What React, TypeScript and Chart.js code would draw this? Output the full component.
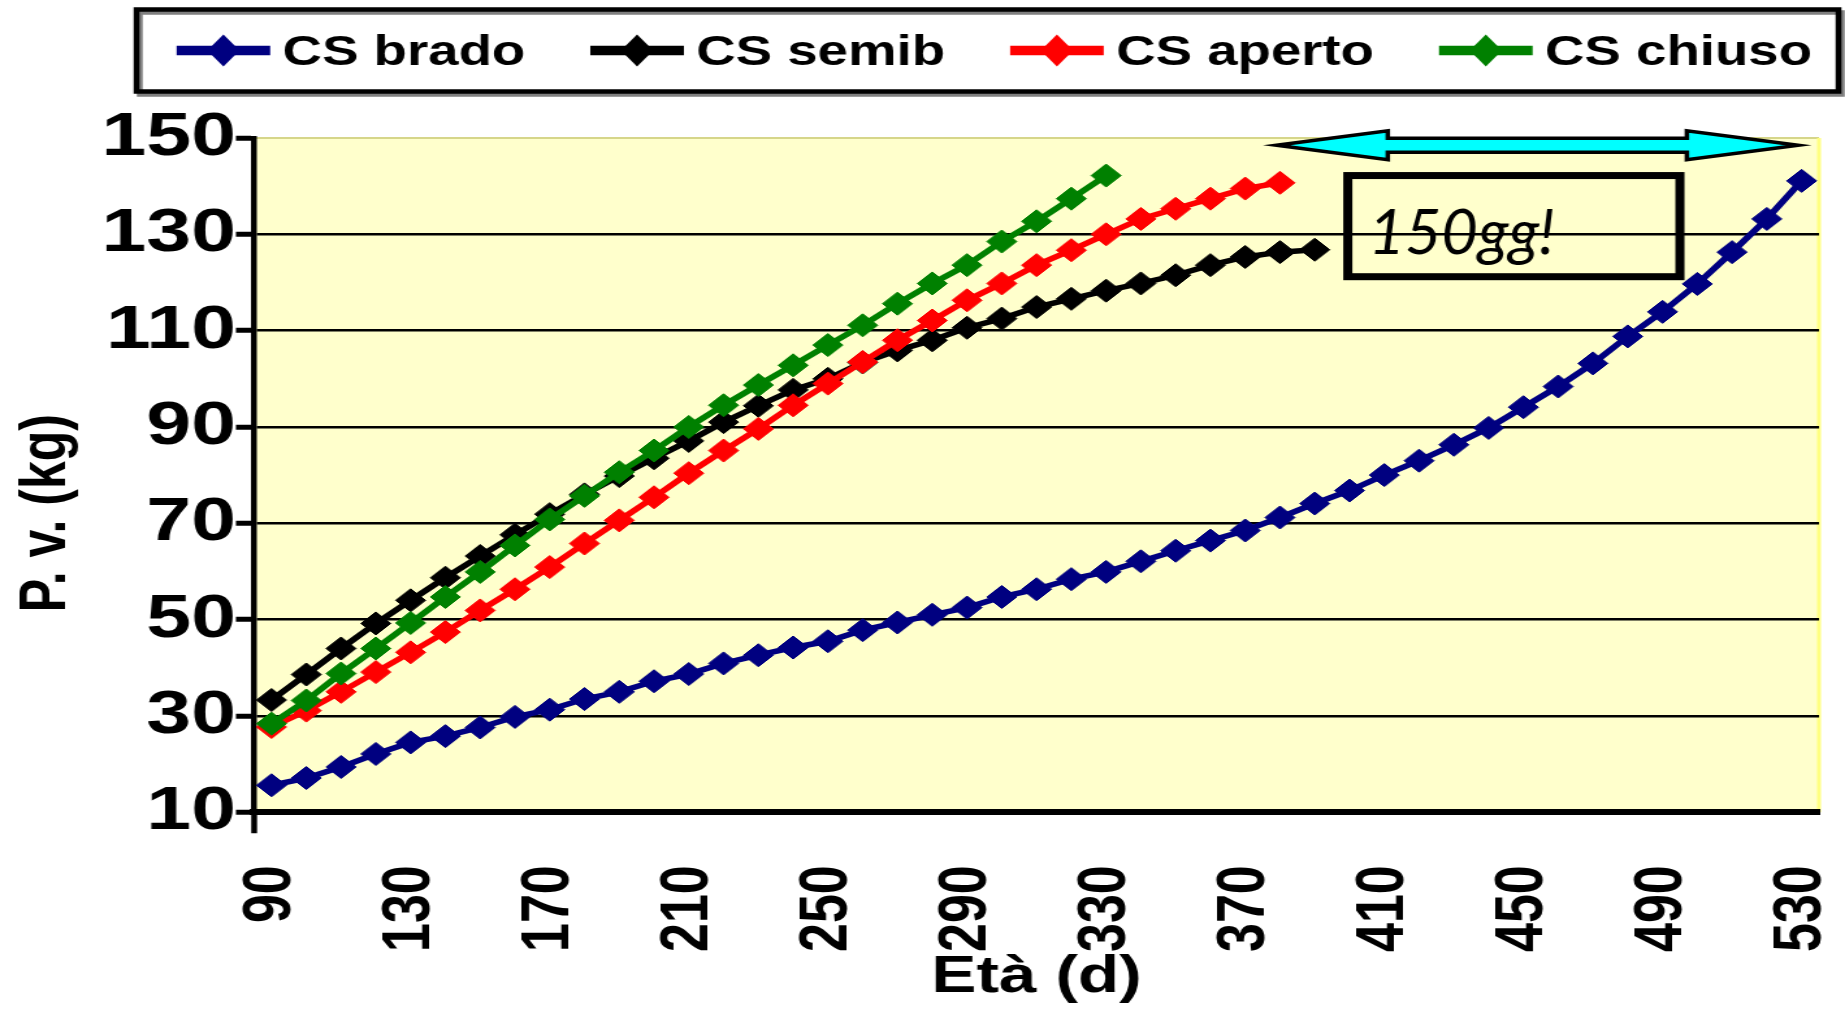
import React, { useEffect, useRef } from 'react';
import { Chart, registerables } from 'chart.js';

Chart.register(...registerables);

// ---------------- data ----------------
const DAYS = [
  90, 100, 110, 120, 130, 140, 150, 160, 170, 180, 190, 200, 210, 220, 230,
  240, 250, 260, 270, 280, 290, 300, 310, 320, 330, 340, 350, 360, 370, 380,
  390, 400, 410, 420, 430, 440, 450, 460, 470, 480, 490, 500, 510, 520, 530,
];

const CS_BRADO = [
  15.6, 17.1, 19.4, 22.1, 24.5, 25.8, 27.6, 29.8, 31.3, 33.5, 35.0, 37.2, 38.7, 40.9, 42.6,
  44.2, 45.5, 47.8, 49.4, 51.0, 52.5, 54.7, 56.3, 58.4, 59.9, 62.1, 64.3, 66.4, 68.5, 71.2,
  74.1, 76.8, 80.0, 83.0, 86.3, 89.8, 94.1, 98.4, 103.2, 108.8, 113.9, 119.7, 126.3, 133.2, 141.1,
];

const CS_SEMIB = [
  33.3, 38.6, 44.0, 49.2, 54.0, 58.7, 63.2, 67.6, 71.9, 76.0, 79.8, 83.5, 87.1, 91.0, 94.4,
  97.7, 100.0, 103.4, 105.9, 108.0, 110.6, 112.5, 114.9, 116.6, 118.3, 119.8, 121.5, 123.6, 125.3, 126.3,
  126.8,
];

const CS_APERTO = [
  27.7, 31.1, 35.0, 39.1, 43.2, 47.4, 51.9, 56.3, 60.9, 65.8, 70.6, 75.4, 80.4, 85.1, 89.6,
  94.5, 99.0, 103.5, 108.0, 112.1, 116.3, 119.8, 123.6, 126.7, 130.0, 133.2, 135.3, 137.4, 139.5, 140.7,
];

const CS_CHIUSO = [
  28.4, 33.2, 38.8, 44.0, 49.3, 54.7, 59.9, 65.4, 70.8, 75.7, 80.6, 85.1, 90.0, 94.5, 98.7,
  102.8, 107.0, 111.1, 115.6, 119.8, 123.6, 128.5, 132.7, 137.4, 142.2,
];

const SERIES_NAMES = ['CS brado', 'CS semib', 'CS aperto', 'CS chiuso'];
const SERIES_COLORS = ['#000080', '#000000', '#FF0000', '#008000'];

const Y_MIN = 10;
const Y_MAX = 150;
const Y_STEP = 20;
const X_LABEL_EVERY = 4;
const X_TITLE = 'Età (d)';
const Y_TITLE = 'P. v. (kg)';

// annotation (in data units: days / kg)
const NOTE_TEXT = '150gg!';
const ARROW_DAYS = [379, 529];
const ARROW_KG = 148.5;
const NOTE_BOX_DAYS = [399.5, 495];
const NOTE_BOX_KG = [142.2, 121.2];
const NOTE_TEXT_AT = [405.4, 126.0];

// ---------------- layout ----------------
const STRETCH = 1.3; // the original chart is stretched horizontally
const PAGE_W = 1845;
const PAGE_H = 1016;
const CANVAS_W = Math.round(PAGE_W / STRETCH);
const FONT = '"Liberation Sans", Arial, Helvetica, sans-serif';

const dayToIndex = (d: number) => (d - DAYS[0]) / (DAYS[1] - DAYS[0]);

const decorPlugin = {
  id: 'decor',
  beforeDraw(chart: any) {
    const { ctx, chartArea: a } = chart;
    ctx.save();
    ctx.fillStyle = '#FFFFCC';
    ctx.fillRect(a.left, a.top, a.right - a.left, a.bottom - a.top);
    ctx.strokeStyle = '#D6D68A';
    ctx.lineWidth = 2;
    ctx.beginPath();
    ctx.moveTo(a.left, a.top);
    ctx.lineTo(a.right, a.top);
    ctx.stroke();
    ctx.strokeStyle = '#FFFF80';
    ctx.lineWidth = 3;
    ctx.beginPath();
    ctx.moveTo(a.right, a.top);
    ctx.lineTo(a.right, a.bottom);
    ctx.stroke();
    ctx.restore();
  },
  afterDraw(chart: any) {
    const { ctx, chartArea: a } = chart;
    const xs = chart.scales.x;
    const ys = chart.scales.y;

    // ---- y axis line running a little below the x axis ----
    ctx.save();
    ctx.strokeStyle = '#000';
    ctx.lineWidth = 4.5;
    ctx.beginPath();
    ctx.moveTo(a.left, a.bottom);
    ctx.lineTo(a.left, a.bottom + 21);
    ctx.stroke();
    ctx.restore();

    // ---- legend (framed box) ----
    ctx.save();
    const bx1 = 105, by1 = 9.5, bx2 = 1414, by2 = 91.5;
    ctx.strokeStyle = '#7f7f7f';
    ctx.lineWidth = 4.5;
    ctx.strokeRect(bx1 + 2.5, by1 + 3, bx2 - bx1, by2 - by1);
    ctx.strokeStyle = '#000';
    ctx.strokeRect(bx1, by1, bx2 - bx1, by2 - by1);

    ctx.font = `bold 42px ${FONT}`;
    ctx.textBaseline = 'alphabetic';
    ctx.textAlign = 'left';
    let x = 135.8;
    const ly = 50.5;
    chart.data.datasets.forEach((ds: any) => {
      const col = ds.borderColor;
      ctx.strokeStyle = col;
      ctx.lineWidth = 9.5;
      ctx.beginPath();
      ctx.moveTo(x, ly);
      ctx.lineTo(x + 72, ly);
      ctx.stroke();
      const cx = x + 36;
      ctx.fillStyle = col;
      ctx.beginPath();
      ctx.moveTo(cx - 12.5, ly);
      ctx.lineTo(cx, ly - 16);
      ctx.lineTo(cx + 12.5, ly);
      ctx.lineTo(cx, ly + 16);
      ctx.closePath();
      ctx.fill();
      ctx.fillStyle = '#000';
      const tx = x + 72 + 9.5;
      ctx.fillText(ds.label, tx, 65);
      x = tx + ctx.measureText(ds.label).width + 50;
    });
    ctx.restore();

    // ---- y axis title ----
    ctx.save();
    ctx.translate(36, (ys.top + ys.bottom) / 2 + 38);
    ctx.rotate(-Math.PI / 2);
    ctx.font = `bold 50px ${FONT}`;
    ctx.fillStyle = '#000';
    ctx.textAlign = 'center';
    ctx.textBaseline = 'middle';
    ctx.fillText(Y_TITLE, 0, 0);
    ctx.restore();

    // ---- arrow ----
    const cw = xs.getPixelForValue(1) - xs.getPixelForValue(0);
    const xL = xs.getPixelForValue(dayToIndex(ARROW_DAYS[0]));
    const xR = xs.getPixelForValue(dayToIndex(ARROW_DAYS[1]));
    const yA = ys.getPixelForValue(ARROW_KG);
    const hl = 3.2 * cw;
    const hh = 14.5;
    const sh = 7;
    ctx.save();
    ctx.beginPath();
    ctx.moveTo(xL, yA);
    ctx.lineTo(xL + hl, yA - hh);
    ctx.lineTo(xL + hl, yA - sh);
    ctx.lineTo(xR - hl, yA - sh);
    ctx.lineTo(xR - hl, yA - hh);
    ctx.lineTo(xR, yA);
    ctx.lineTo(xR - hl, yA + hh);
    ctx.lineTo(xR - hl, yA + sh);
    ctx.lineTo(xL + hl, yA + sh);
    ctx.lineTo(xL + hl, yA + hh);
    ctx.closePath();
    ctx.fillStyle = '#00FFFF';
    ctx.fill();
    ctx.strokeStyle = '#000';
    ctx.lineWidth = 3.5;
    ctx.lineJoin = 'miter';
    ctx.stroke();

    // ---- note box ----
    const nx1 = xs.getPixelForValue(dayToIndex(NOTE_BOX_DAYS[0]));
    const nx2 = xs.getPixelForValue(dayToIndex(NOTE_BOX_DAYS[1]));
    const ny1 = ys.getPixelForValue(NOTE_BOX_KG[0]);
    const ny2 = ys.getPixelForValue(NOTE_BOX_KG[1]);
    ctx.lineWidth = 7;
    ctx.strokeRect(nx1, ny1, nx2 - nx1, ny2 - ny1);

    // ---- note text (not stretched) ----
    const tx = xs.getPixelForValue(dayToIndex(NOTE_TEXT_AT[0]));
    const ty = ys.getPixelForValue(NOTE_TEXT_AT[1]);
    ctx.translate(tx, ty);
    ctx.scale(1 / STRETCH, 1);
    ctx.font = 'italic 63px Lato, "Open Sans", sans-serif';
    ctx.fillStyle = '#000';
    ctx.textAlign = 'left';
    ctx.textBaseline = 'alphabetic';
    ctx.fillText(NOTE_TEXT, 0, 0);
    ctx.restore();
  },
};

function makeDataset(label: string, data: number[], color: string, order: number) {
  return {
    label,
    data,
    borderColor: color,
    backgroundColor: color,
    pointBackgroundColor: color,
    pointBorderColor: color,
    borderWidth: 5.5,
    pointStyle: 'rectRot',
    pointRadius: 11.5,
    pointHoverRadius: 11.5,
    pointBorderWidth: 1,
    tension: 0,
    fill: false,
    order,
  };
}

export default function App() {
  const ref = useRef<HTMLCanvasElement | null>(null);

  useEffect(() => {
    document.body.style.margin = '0';
    document.body.style.overflow = 'hidden';
    const canvas = ref.current;
    if (!canvas) return;

    const chart = new Chart(canvas, {
      type: 'line',
      data: {
        labels: DAYS.map(String),
        datasets: [
          makeDataset(SERIES_NAMES[0], CS_BRADO, SERIES_COLORS[0], 4),
          makeDataset(SERIES_NAMES[1], CS_SEMIB, SERIES_COLORS[1], 3),
          makeDataset(SERIES_NAMES[2], CS_APERTO, SERIES_COLORS[2], 2),
          makeDataset(SERIES_NAMES[3], CS_CHIUSO, SERIES_COLORS[3], 1),
        ] as any,
      },
      options: {
        responsive: false,
        animation: false,
        devicePixelRatio: 1,
        layout: { padding: { left: 78, right: 20, top: 138, bottom: 0 } },
        plugins: {
          legend: { display: false },
          tooltip: { enabled: false },
        },
        scales: {
          x: {
            type: 'category',
            offset: true,
            grid: {
              display: true,
              drawOnChartArea: false,
              drawTicks: true,
              offset: true,
              tickLength: 53,
              tickWidth: 5,
              color: 'rgba(0,0,0,0)',
              tickColor: 'rgba(0,0,0,0)',
            },
            border: { display: true, color: '#000', width: 6 },
            ticks: {
              autoSkip: false,
              minRotation: 90,
              maxRotation: 90,
              padding: 0,
              color: '#000',
              font: { family: FONT, size: 52, weight: 'bold', lineHeight: 0.5 },
              callback: (_v: any, i: number) => (i % X_LABEL_EVERY === 0 ? String(DAYS[i]) : ''),
            },
            title: {
              display: true,
              text: X_TITLE,
              color: '#000',
              font: { family: FONT, size: 52, weight: 'bold', lineHeight: 1 },
              padding: { top: 0, bottom: 12 },
            },
          },
          y: {
            min: Y_MIN,
            max: Y_MAX,
            ticks: {
              stepSize: Y_STEP,
              padding: 0,
              color: '#000',
              font: { family: FONT, size: 62, weight: 'bold' },
            },
            grid: {
              color: (c: any) => (c.tick && c.tick.value === Y_MAX ? 'rgba(0,0,0,0)' : '#000'),
              lineWidth: 2.5,
              tickLength: 14,
              tickWidth: 5,
              tickColor: '#000',
            },
            border: { display: true, color: '#000', width: 4.5 },
          },
        },
      } as any,
      plugins: [decorPlugin],
    });

    return () => {
      chart.destroy();
    };
  }, []);

  return (
    <canvas
      ref={ref}
      width={CANVAS_W}
      height={PAGE_H}
      style={{ display: 'block', width: `${PAGE_W}px`, height: `${PAGE_H}px` }}
    />
  );
}
